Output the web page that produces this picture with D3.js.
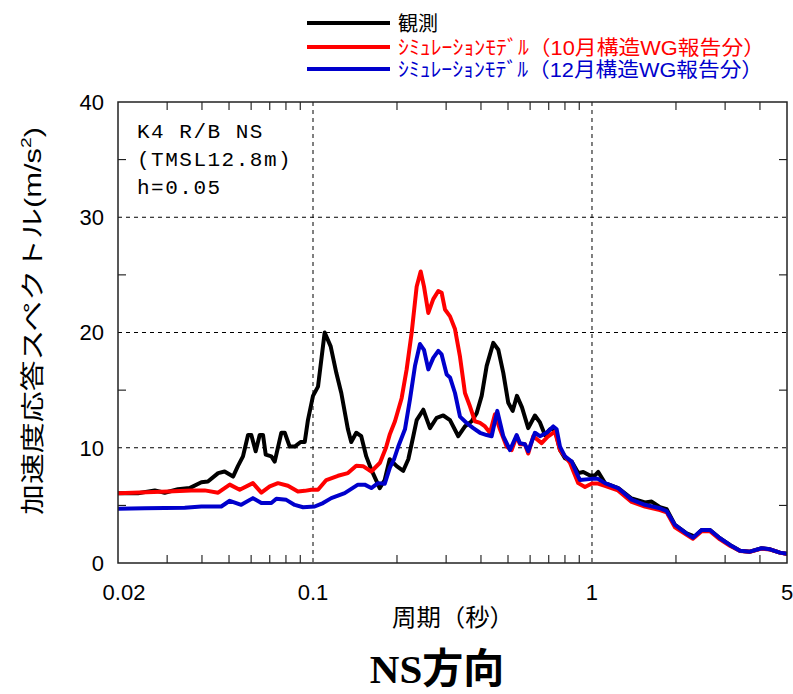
<!DOCTYPE html>
<html><head><meta charset="utf-8">
<script src="https://cdn.jsdelivr.net/npm/d3@7"></script>
<style>
body{margin:0;background:#fff;}
</style></head>
<body><svg id="c" width="793" height="694"></svg>
<script>
// ---- data (period [s], spectral acceleration [m/s^2]) ----
const obsT = [0.0200,0.0236,0.0271,0.0294,0.0328,0.0361,0.0398,0.0420,0.0457,0.0482,0.0517,0.0538,0.0561,0.0585,0.0601,0.0623,0.0644,0.0662,0.0677,0.0709,0.0729,0.0770,0.0792,0.0825,0.0860,0.0903,0.0934,0.0959,0.1000,0.1042,0.1101,0.1157,0.1212,0.1263,0.1334,0.1371,0.1429,0.1489,0.1552,0.1618,0.1734,0.1807,0.1883,0.1995,0.2106,0.2196,0.2288,0.2353,0.2485,0.2626,0.2775,0.2931,0.3098,0.3317,0.3505,0.3704,0.3860,0.4023,0.4193,0.4428,0.4615,0.4809,0.5011,0.5196,0.5383,0.5611,0.5908,0.6244,0.6508,0.6783,0.7069,0.7368,0.7678,0.8000,0.8456,0.8928,0.9304,0.9834,1.025,1.053,1.113,1.242,1.387,1.548,1.636,1.752,1.852,1.983,2.184,2.339,2.472,2.647,2.874,3.122,3.391,3.682,4.055,4.345,4.717,5.0];
const obsV = [6.06,6.06,6.3,6.1,6.4,6.5,7.0,7.07,7.8,7.94,7.5,8.4,9.25,11.1,11.1,9.7,11.1,11.1,9.4,9.25,8.8,11.3,11.3,10.1,10.1,10.5,10.5,12.4,14.5,15.3,20.0,18.8,16.5,14.75,11.6,10.5,11.3,11.0,9.25,8.1,6.5,7.2,9.0,8.4,8.0,9.0,11.0,12.4,13.3,11.7,12.6,12.8,12.4,11.0,11.85,12.3,13.0,14.5,17.1,19.1,18.5,16.5,13.9,13.2,14.5,13.5,11.7,12.8,12.2,11.1,11.6,11.6,9.8,9.1,8.8,7.8,7.9,7.6,7.6,7.9,6.93,6.5,5.6,5.25,5.33,4.84,4.67,3.3,2.58,2.3,2.87,2.87,2.15,1.57,1.07,0.98,1.28,1.19,0.9,0.8];

const octT = [0.0200,0.0302,0.0366,0.0409,0.0457,0.0503,0.0546,0.0609,0.0653,0.0700,0.0749,0.0813,0.0883,0.0934,0.0986,0.1042,0.1116,0.1229,0.1334,0.1429,0.1511,0.1618,0.1738,0.1826,0.1887,0.1967,0.2078,0.2166,0.2258,0.2353,0.2432,0.2499,0.2590,0.2698,0.2812,0.2891,0.2972,0.3098,0.3228,0.3364,0.3505,0.3652,0.3806,0.3968,0.4135,0.4309,0.4490,0.4679,0.4944,0.5152,0.5370,0.5518,0.5750,0.5908,0.6159,0.6600,0.6969,0.7368,0.7678,0.8337,0.8928,0.9436,0.9996,1.050,1.113,1.239,1.387,1.548,1.752,1.852,1.983,2.184,2.300,2.472,2.647,2.874,3.122,3.391,3.682,4.055,4.345,4.717,5.0];
const octV = [6.06,6.2,6.3,6.3,6.1,6.8,6.35,6.93,6.1,6.65,6.93,6.7,6.2,6.26,6.35,6.35,7.2,7.57,7.8,8.43,8.4,7.94,8.7,10.0,11.2,12.3,14.3,16.8,20.0,24.0,25.3,24.0,21.7,22.9,23.6,23.45,22.0,21.4,20.3,17.9,14.75,13.6,12.3,12.15,11.85,11.3,12.9,11.6,10.1,9.8,11.0,10.3,10.3,9.5,11.0,10.4,11.0,11.4,9.8,8.7,6.93,6.6,6.9,6.9,6.7,6.3,5.3,4.9,4.6,4.4,3.1,2.45,2.1,2.75,2.75,2.05,1.5,1.05,0.98,1.25,1.17,0.9,0.78];

const decT = [0.0200,0.0249,0.0347,0.0398,0.0469,0.0503,0.0553,0.0609,0.0653,0.0709,0.0739,0.0802,0.0860,0.0921,0.1014,0.1086,0.1163,0.1299,0.1449,0.1532,0.1618,0.1710,0.1807,0.1887,0.1951,0.2021,0.2136,0.2226,0.2320,0.2418,0.2499,0.2590,0.2698,0.2812,0.2891,0.3014,0.3098,0.3228,0.3364,0.3554,0.3754,0.3968,0.4193,0.4368,0.4576,0.4809,0.5082,0.5370,0.5518,0.5750,0.5908,0.6244,0.6508,0.6878,0.7265,0.7470,0.7678,0.8000,0.8456,0.8811,0.9054,0.9971,1.050,1.113,1.239,1.387,1.548,1.752,1.852,1.983,2.184,2.300,2.472,2.647,2.874,3.122,3.391,3.682,4.055,4.345,4.717,5.0];
const decV = [4.7,4.75,4.8,4.9,4.9,5.4,5.05,5.63,5.2,5.2,5.57,5.48,5.04,4.84,4.9,5.2,5.63,6.06,6.8,6.8,6.5,6.93,6.87,8.3,9.0,10.1,11.6,14.2,17.1,19.0,18.5,16.8,17.8,18.4,18.1,16.35,16.1,14.75,12.7,12.15,11.7,11.3,11.1,11.0,13.2,11.0,9.8,11.1,10.4,10.3,9.7,11.3,11.0,11.3,11.85,11.6,10.1,9.25,8.8,7.8,7.2,7.3,7.3,6.93,6.5,5.5,5.05,4.75,4.5,3.3,2.55,2.2,2.87,2.87,2.15,1.57,1.07,0.98,1.28,1.19,0.9,0.8];

const xTickVals = [0.02,0.1,1,5];
const xTickLabels = ["0.02","0.1","1","5"];
const xMinor = [0.03,0.04,0.05,0.06,0.07,0.08,0.09,0.2,0.3,0.4,0.5,0.6,0.7,0.8,0.9,2,3,4];
const xGrid = [0.1,1];
const yTickVals = [0,10,20,30,40];
const yMinor = [5,15,25,35];
const yGrid = [10,20,30];

const seriesNames = ["観測","ｼﾐｭﾚｰｼｮﾝﾓﾃﾞﾙ（10月構造WG報告分）","ｼﾐｭﾚｰｼｮﾝﾓﾃﾞﾙ（12月構造WG報告分）"];
const seriesColors = ["#000000","#ff0000","#0000cc"];
const annotation = ["K4 R/B NS","(TMSL12.8m)","h=0.05"];

// ---- drawing ----
const SANS = '"Liberation Sans","Noto Sans CJK JP",sans-serif';
const svg = d3.select("#c");
const L=118,R=787,T=102,B=563;
const x = d3.scaleLog().domain([0.02,5]).range([L,R]);
const y = d3.scaleLinear().domain([0,40]).range([B,T]);

svg.append("defs").append("clipPath").attr("id","clip")
  .append("rect").attr("x",L).attr("y",T).attr("width",R-L).attr("height",B-T);

// grid
svg.selectAll(".gy").data(yGrid).enter().append("line")
  .attr("x1",L).attr("x2",R).attr("y1",d=>y(d)).attr("y2",d=>y(d))
  .attr("stroke","#000").attr("stroke-width",1).attr("stroke-dasharray","4,4");
svg.selectAll(".gx").data(xGrid).enter().append("line")
  .attr("x1",d=>x(d)).attr("x2",d=>x(d)).attr("y1",T).attr("y2",B)
  .attr("stroke","#000").attr("stroke-width",1).attr("stroke-dasharray","4,4");

// minor ticks
const tl=8;
xMinor.forEach(v=>{
  svg.append("line").attr("x1",x(v)).attr("x2",x(v)).attr("y1",B).attr("y2",B-tl).attr("stroke","#000").attr("stroke-width",1);
  svg.append("line").attr("x1",x(v)).attr("x2",x(v)).attr("y1",T).attr("y2",T+tl).attr("stroke","#000").attr("stroke-width",1);
});
yMinor.forEach(v=>{
  svg.append("line").attr("x1",L).attr("x2",L+tl).attr("y1",y(v)).attr("y2",y(v)).attr("stroke","#000").attr("stroke-width",1);
  svg.append("line").attr("x1",R).attr("x2",R-tl).attr("y1",y(v)).attr("y2",y(v)).attr("stroke","#000").attr("stroke-width",1);
});

// series
const line = d3.line().x(d=>x(d[0])).y(d=>y(d[1]));
const series = [d3.zip(obsT,obsV), d3.zip(octT,octV), d3.zip(decT,decV)];
const g = svg.append("g").attr("clip-path","url(#clip)");
series.forEach((s,i)=>{
  g.append("path").datum(s).attr("d",line).attr("fill","none")
   .attr("stroke",seriesColors[i]).attr("stroke-width",4)
   .attr("stroke-linejoin","round").attr("stroke-linecap","round");
});

// frame
svg.append("rect").attr("x",L).attr("y",T).attr("width",R-L).attr("height",B-T)
  .attr("fill","none").attr("stroke","#222").attr("stroke-width",1.5);

// tick labels
svg.selectAll(".yl").data(yTickVals).enter().append("text")
  .attr("x",104).attr("y",d=>y(d)).attr("dy","0.36em").attr("text-anchor","end")
  .style("font-family",SANS).attr("font-size",22).text(d=>d);
svg.selectAll(".xl").data(xTickVals).enter().append("text")
  .attr("x",(d,i)=>x(d)+(i===0?6:0)).attr("y",600).attr("text-anchor","middle")
  .style("font-family",SANS).attr("font-size",22).text((d,i)=>xTickLabels[i]);

// axis titles
svg.append("text").attr("x",453).attr("y",626).attr("text-anchor","middle")
  .style("font-family",SANS).attr("font-size",24)
  .attr("textLength",122).attr("lengthAdjust","spacingAndGlyphs").text("周期（秒）");
const yl = svg.append("text").attr("transform","translate(41,321) rotate(-90)")
  .attr("text-anchor","middle").style("font-family",SANS).attr("font-size",24)
  .attr("textLength",388).attr("lengthAdjust","spacingAndGlyphs");
yl.append("tspan").text("加速度応答スペクトル(m/s");
yl.append("tspan").attr("font-size",15).attr("dy",-10).text("2");
yl.append("tspan").attr("dy",10).text(")");

// annotation
annotation.forEach((t,i)=>{
  svg.append("text").attr("x",137).attr("y",138+i*28)
    .style("font-family",'"Liberation Mono","DejaVu Sans Mono",monospace')
    .style("letter-spacing","1.5px")
    .attr("font-size",21).text(t);
});

// legend
const legY=[23,47,69], legW=[null,367,365];
seriesNames.forEach((n,i)=>{
  svg.append("line").attr("x1",307).attr("x2",390).attr("y1",legY[i]).attr("y2",legY[i])
    .attr("stroke",seriesColors[i]).attr("stroke-width",4);
  const t = svg.append("text").attr("x",398).attr("y",legY[i]+8)
    .style("font-family",SANS).attr("fill",seriesColors[i]).attr("font-size",20).text(n);
  if(legW[i]) t.attr("textLength",legW[i]).attr("lengthAdjust","spacingAndGlyphs");
});

// title
svg.append("text").attr("x",437).attr("y",683).attr("text-anchor","middle")
  .style("font-family",'"Liberation Serif","Noto Sans CJK JP",serif')
  .attr("font-weight","bold").attr("font-size",41).text("NS方向");
</script></body></html>
